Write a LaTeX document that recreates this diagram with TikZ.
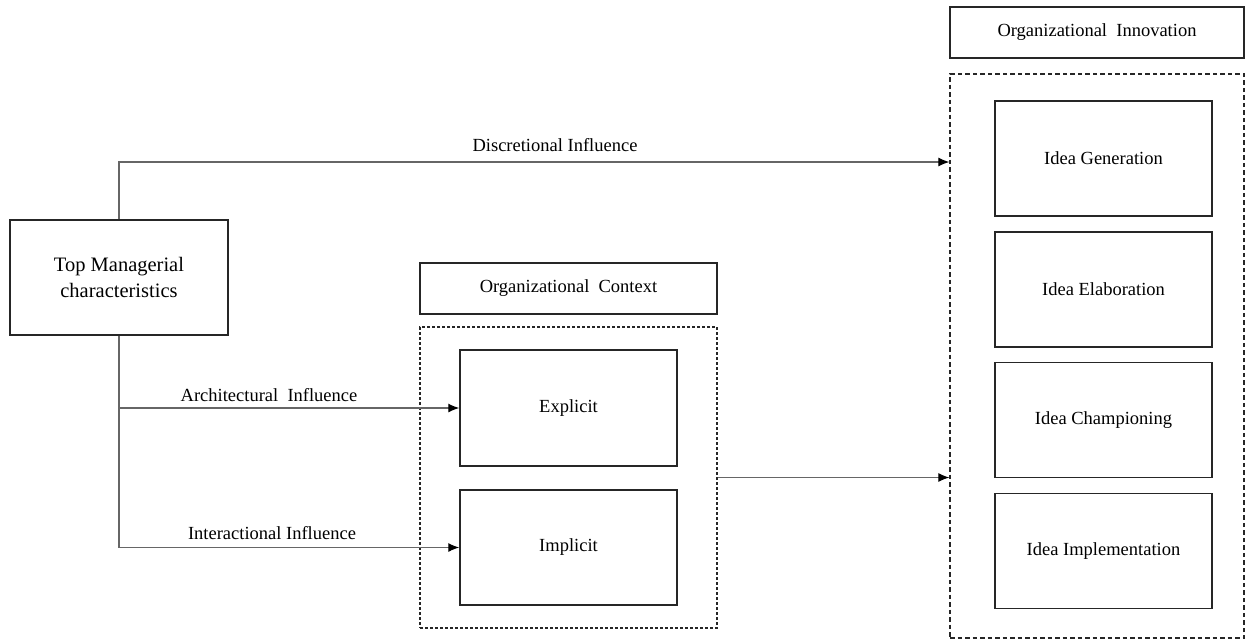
\documentclass[tikz,border=0pt]{standalone}
\usepackage{fontspec}
\setmainfont{Liberation Serif}
\usetikzlibrary{arrows.meta}
\begin{document}
\begin{tikzpicture}[x=1pt,y=-1pt,
  box/.style={draw=black!85,line width=1.5pt,rectangle,inner sep=0pt,align=center,
    font=\fontsize{18.5}{26.7}\selectfont},
  dbox/.style={draw=black!85,line width=1.3pt,rectangle,inner sep=0pt},
  conn/.style={draw=black!60,line width=1.1pt},
  arr/.style={conn,-{Latex[length=11pt,width=9pt,black]}},
  lbl/.style={font=\fontsize{18.5}{22}\selectfont,inner sep=0pt}]
\useasboundingbox (0,0) rectangle (1247,641);
% left
\node[box,minimum width=218pt,minimum height=115pt,font=\fontsize{20.5}{26.7}\selectfont] (top) at (119,277.5) {Top Managerial\\characteristics};
% context
\node[box,minimum width=297pt,minimum height=51pt] (ctxh) at (568.5,288.5) {Organizational\enspace Context};
\node[dbox,dash pattern=on 3pt off 2pt,minimum width=297pt,minimum height=301pt] (ctx) at (568.5,477.5) {};
\node[box,minimum width=217pt,minimum height=116pt] (expl) at (568.5,408) {Explicit};
\node[box,minimum width=217pt,minimum height=115pt] (impl) at (568.5,547.5) {Implicit};
% innovation
\node[box,minimum width=294pt,minimum height=51pt] (innh) at (1097,32.5) {Organizational\enspace Innovation};
\node[dbox,dash pattern=on 4.5pt off 3pt,minimum width=294pt,minimum height=564pt] (inno) at (1097,356) {};
\node[box,minimum width=217pt,minimum height=115pt] (gen) at (1103.5,158.5) {Idea Generation};
\node[box,minimum width=217pt,minimum height=115pt] (elab) at (1103.5,289.5) {Idea Elaboration};
\node[box,minimum width=217pt,minimum height=115pt] (champ) at (1103.5,420) {Idea Championing};
\node[box,minimum width=217pt,minimum height=115pt] (impln) at (1103.5,551) {Idea Implementation};
% connectors
\coordinate (d) at (119,162);
\draw[arr] (top.north) -- (d) -- (inno.west |- d);
\draw[arr] (top.south) |- (expl.west);
\draw[arr] (top.south) |- (impl.west);
\draw[arr] (ctx.east) -- (inno.west |- ctx.east);
% labels
\node[lbl] (ldisc) at (555,145) {Discretional Influence};
\node[lbl] (larch) at (269,395) {Architectural\enspace Influence};
\node[lbl] (linter) at (272,533) {Interactional Influence};
\end{tikzpicture}
\end{document}
